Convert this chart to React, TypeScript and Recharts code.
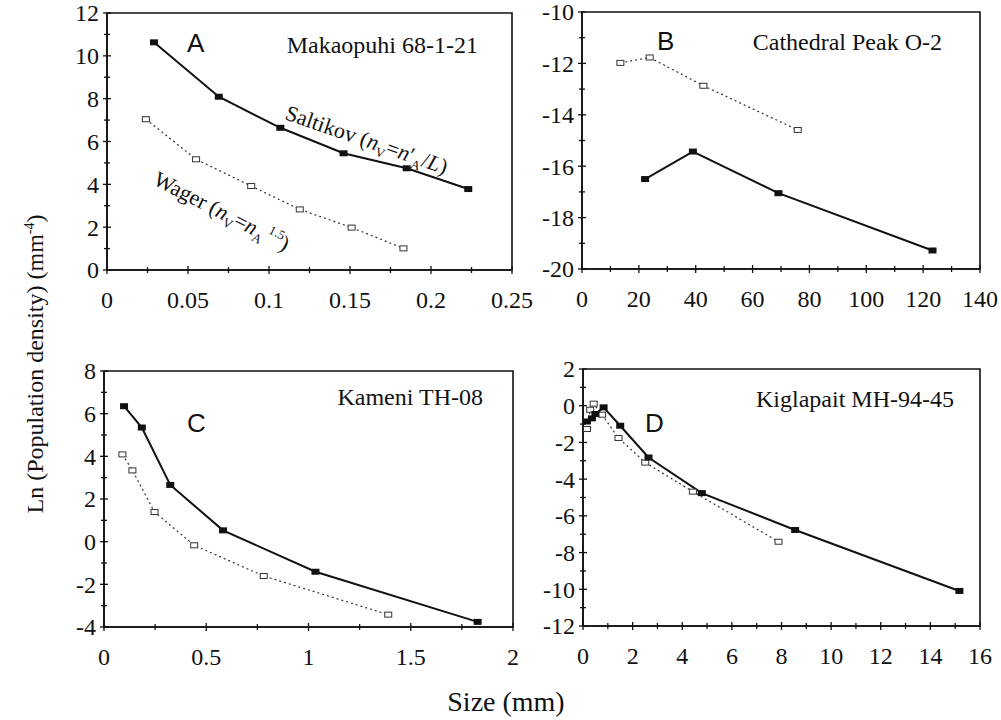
import React from 'react';
import { LineChart, Line, XAxis, YAxis, ReferenceArea } from 'recharts';

// --- Panel A: Makaopuhi 68-1-21 ---
const saltikovA = [
  { x: 0.029, y: 10.63 },
  { x: 0.069, y: 8.09 },
  { x: 0.107, y: 6.64 },
  { x: 0.146, y: 5.45 },
  { x: 0.185, y: 4.75 },
  { x: 0.223, y: 3.78 },
];
const wagerA = [
  { x: 0.024, y: 7.04 },
  { x: 0.055, y: 5.17 },
  { x: 0.089, y: 3.92 },
  { x: 0.119, y: 2.83 },
  { x: 0.151, y: 1.98 },
  { x: 0.183, y: 1.01 },
];
const xMajorA = [0, 0.05, 0.1, 0.15, 0.2, 0.25];
const xMinorA = [0.025, 0.075, 0.125, 0.175, 0.225];
const yMajorA = [0, 2, 4, 6, 8, 10, 12];
const yMinorA = [1, 3, 5, 7, 9, 11];

// --- Panel B: Cathedral Peak O-2 ---
const saltikovB = [
  { x: 22.2, y: -16.5 },
  { x: 39.0, y: -15.43 },
  { x: 69.1, y: -17.05 },
  { x: 123.3, y: -19.28 },
];
const wagerB = [
  { x: 13.5, y: -11.98 },
  { x: 23.8, y: -11.77 },
  { x: 42.7, y: -12.87 },
  { x: 75.9, y: -14.59 },
];
const xMajorB = [0, 20, 40, 60, 80, 100, 120, 140];
const xMinorB = [10, 30, 50, 70, 90, 110, 130];
const yMajorB = [-20, -18, -16, -14, -12, -10];
const yMinorB = [-19, -17, -15, -13, -11];

// --- Panel C: Kameni TH-08 ---
const saltikovC = [
  { x: 0.098, y: 6.35 },
  { x: 0.185, y: 5.35 },
  { x: 0.324, y: 2.66 },
  { x: 0.582, y: 0.53 },
  { x: 1.034, y: -1.41 },
  { x: 1.827, y: -3.76 },
];
const wagerC = [
  { x: 0.09, y: 4.09 },
  { x: 0.139, y: 3.34 },
  { x: 0.247, y: 1.39 },
  { x: 0.441, y: -0.17 },
  { x: 0.781, y: -1.61 },
  { x: 1.39, y: -3.42 },
];
const xMajorC = [0, 0.5, 1, 1.5, 2];
const xMinorC = [0.25, 0.75, 1.25, 1.75];
const yMajorC = [-4, -2, 0, 2, 4, 6, 8];
const yMinorC = [-3, -1, 1, 3, 5, 7];

// --- Panel D: Kiglapait MH-94-45 ---
const saltikovD = [
  { x: 0.16, y: -0.86 },
  { x: 0.36, y: -0.69 },
  { x: 0.5, y: -0.45 },
  { x: 0.83, y: -0.09 },
  { x: 1.5, y: -1.09 },
  { x: 2.64, y: -2.82 },
  { x: 4.79, y: -4.76 },
  { x: 8.55, y: -6.77 },
  { x: 15.17, y: -10.09 },
];
const wagerD = [
  { x: 0.16, y: -1.27 },
  { x: 0.29, y: -0.22 },
  { x: 0.43, y: 0.11 },
  { x: 0.77, y: -0.49 },
  { x: 1.43, y: -1.76 },
  { x: 2.51, y: -3.1 },
  { x: 4.43, y: -4.68 },
  { x: 7.88, y: -7.41 },
];
const xMajorD = [0, 2, 4, 6, 8, 10, 12, 14, 16];
const xMinorD = [1, 3, 5, 7, 9, 11, 13, 15];
const yMajorD = [-12, -10, -8, -6, -4, -2, 0, 2];
const yMinorD = [-11, -9, -7, -5, -3, -1, 1];

const INK = '#111';
const SERIF = 'Liberation Serif';
const SANS = 'Liberation Sans';
const X_GAP = 21; // axis line to top of x labels
const Y_GAP = 8; // axis line to right end of y labels
const TICK_SIZE = 24;

const FilledSquare = (props: any) => {
  const { cx, cy, index } = props;
  if (cx == null || cy == null) return null;
  return <rect key={`f${index}`} x={cx - 4} y={cy - 3} width={8} height={6} fill={INK} />;
};

const OpenSquare = (props: any) => {
  const { cx, cy, index } = props;
  if (cx == null || cy == null) return null;
  return (
    <rect key={`o${index}`} x={cx - 3.5} y={cy - 2.5} width={7} height={5} fill="#fff" stroke="#333" strokeWidth={1} />
  );
};

// tick marks cross the axis line; minor ticks carry no label
function XTick(props: any) {
  const { x, y, payload, major } = props;
  const axisY = y - X_GAP;
  const isMajor = major.includes(payload.value);
  const half = isMajor ? 4 : 3;
  return (
    <g>
      <line x1={x} x2={x} y1={axisY - half} y2={axisY + half} stroke={INK} strokeWidth={1.3} />
      {isMajor && (
        <text x={x} y={y} dy="0.7em" textAnchor="middle" style={{ fontFamily: SERIF, fontSize: TICK_SIZE, fill: INK }}>
          {String(payload.value)}
        </text>
      )}
    </g>
  );
}

function YTick(props: any) {
  const { x, y, payload, major } = props;
  const axisX = x + Y_GAP;
  const isMajor = major.includes(payload.value);
  const half = isMajor ? 4 : 3;
  return (
    <g>
      <line x1={axisX - half} x2={axisX + half} y1={y} y2={y} stroke={INK} strokeWidth={1.3} />
      {isMajor && (
        <text x={x} y={y} dy="0.35em" textAnchor="end" style={{ fontFamily: SERIF, fontSize: TICK_SIZE, fill: INK }}>
          {String(payload.value)}
        </text>
      )}
    </g>
  );
}

const merge = (a: number[], b: number[]) => [...a, ...b].sort((p, q) => p - q);

interface PanelProps {
  left: number;
  top: number;
  width: number;
  height: number;
  marginTop: number;
  marginRight: number;
  yWidth: number;
  xDomain: [number, number];
  yDomain: [number, number];
  xMajor: number[];
  xMinor: number[];
  yMajor: number[];
  yMinor: number[];
  saltikov: { x: number; y: number }[];
  wager: { x: number; y: number }[];
}

function Panel(p: PanelProps) {
  return (
    <div style={{ position: 'absolute', left: p.left, top: p.top }}>
      <LineChart
        width={p.width}
        height={p.height}
        margin={{ top: p.marginTop, right: p.marginRight, left: 0, bottom: 0 }}
        style={{ overflow: 'visible' }}
      >
        <XAxis
          type="number"
          dataKey="x"
          domain={p.xDomain}
          ticks={merge(p.xMajor, p.xMinor)}
          interval={0}
          allowDataOverflow
          height={50}
          tickSize={0}
          tickMargin={X_GAP}
          tickLine={false}
          stroke={INK}
          strokeWidth={1.6}
          tick={<XTick major={p.xMajor} />}
        />
        <YAxis
          type="number"
          dataKey="y"
          domain={p.yDomain}
          ticks={merge(p.yMajor, p.yMinor)}
          interval={0}
          allowDataOverflow
          width={p.yWidth}
          tickSize={0}
          tickMargin={Y_GAP}
          tickLine={false}
          stroke={INK}
          strokeWidth={1.6}
          tick={<YTick major={p.yMajor} />}
        />
        <ReferenceArea
          x1={p.xDomain[0]}
          x2={p.xDomain[1]}
          y1={p.yDomain[0]}
          y2={p.yDomain[1]}
          fill="none"
          stroke={INK}
          strokeWidth={1.6}
        />
        <Line
          data={p.wager}
          dataKey="y"
          type="linear"
          stroke="#333"
          strokeWidth={1.2}
          strokeDasharray="2 3"
          dot={OpenSquare}
          activeDot={false}
          isAnimationActive={false}
        />
        <Line
          data={p.saltikov}
          dataKey="y"
          type="linear"
          stroke={INK}
          strokeWidth={2}
          dot={FilledSquare}
          activeDot={false}
          isAnimationActive={false}
        />
      </LineChart>
    </div>
  );
}

export default function App() {
  const titleStyle = { fontFamily: SERIF, fontSize: 24, fill: INK };
  const letterStyle = { fontFamily: SANS, fontSize: 26, fill: INK };
  const noteStyle = { fontFamily: SERIF, fontSize: 22, fill: INK };
  return (
    <div style={{ position: 'absolute', left: 0, top: 0, width: 1001, height: 720, background: '#fff' }}>
      <Panel
        left={40} top={0} width={497} height={320} marginTop={13} marginRight={25} yWidth={67}
        xDomain={[0, 0.25]} yDomain={[0, 12]}
        xMajor={xMajorA} xMinor={xMinorA} yMajor={yMajorA} yMinor={yMinorA}
        saltikov={saltikovA} wager={wagerA}
      />
      <Panel
        left={520} top={0} width={480} height={319} marginTop={12} marginRight={20} yWidth={62}
        xDomain={[0, 140]} yDomain={[-20, -10]}
        xMajor={xMajorB} xMinor={xMinorB} yMajor={yMajorB} yMinor={yMinorB}
        saltikov={saltikovB} wager={wagerB}
      />
      <Panel
        left={40} top={340} width={497} height={337} marginTop={31} marginRight={24} yWidth={64}
        xDomain={[0, 2]} yDomain={[-4, 8]}
        xMajor={xMajorC} xMinor={xMinorC} yMajor={yMajorC} yMinor={yMinorC}
        saltikov={saltikovC} wager={wagerC}
      />
      <Panel
        left={520} top={340} width={480} height={336} marginTop={29} marginRight={20} yWidth={63}
        xDomain={[0, 16]} yDomain={[-12, 2]}
        xMajor={xMajorD} xMinor={xMinorD} yMajor={yMajorD} yMinor={yMinorD}
        saltikov={saltikovD} wager={wagerD}
      />
      <svg
        width={1001}
        height={720}
        style={{ position: 'absolute', left: 0, top: 0, pointerEvents: 'none' }}
      >
        {/* panel letters */}
        <text x={187} y={52} style={letterStyle}>A</text>
        <text x={657} y={50} style={letterStyle}>B</text>
        <text x={187} y={432} style={letterStyle}>C</text>
        <text x={645} y={432} style={letterStyle}>D</text>

        {/* sample names */}
        <text x={478} y={53} textAnchor="end" style={titleStyle}>Makaopuhi 68-1-21</text>
        <text x={942} y={50} textAnchor="end" style={titleStyle}>Cathedral Peak O-2</text>
        <text x={483} y={405} textAnchor="end" style={titleStyle}>Kameni TH-08</text>
        <text x={954} y={407} textAnchor="end" style={titleStyle}>Kiglapait MH-94-45</text>

        {/* curve labels in panel A */}
        <text transform="translate(284,119) rotate(19)" style={noteStyle}>
          Saltikov (<tspan fontStyle="italic">n</tspan>
          <tspan fontSize={13} dy={5}>V</tspan>
          <tspan dy={-5}>=</tspan>
          <tspan fontStyle="italic">n</tspan>
          <tspan>′</tspan>
          <tspan fontSize={13} dy={5}>A</tspan>
          <tspan dy={-5}>/</tspan>
          <tspan fontStyle="italic">L</tspan>)
        </text>
        <text transform="translate(152,184) rotate(27)" style={noteStyle}>
          Wager (<tspan fontStyle="italic">n</tspan>
          <tspan fontSize={13} dy={5}>V</tspan>
          <tspan dy={-5}>=</tspan>
          <tspan fontStyle="italic">n</tspan>
          <tspan fontSize={13} dy={5}>A</tspan>
          <tspan fontSize={13} dy={-14}> 1.5</tspan>
          <tspan dy={9}>)</tspan>
        </text>

        {/* shared axis titles */}
        <text
          transform="translate(43,364) rotate(-90)"
          textAnchor="middle"
          style={{ fontFamily: SERIF, fontSize: 24, fill: INK }}
        >
          Ln (Population density) (mm<tspan fontSize={14} dy={-9}>-4</tspan>
          <tspan dy={9}>)</tspan>
        </text>
        <text
          x={506}
          y={711}
          textAnchor="middle"
          style={{ fontFamily: SERIF, fontSize: 28, fill: INK }}
        >
          Size (mm)
        </text>
      </svg>
    </div>
  );
}
